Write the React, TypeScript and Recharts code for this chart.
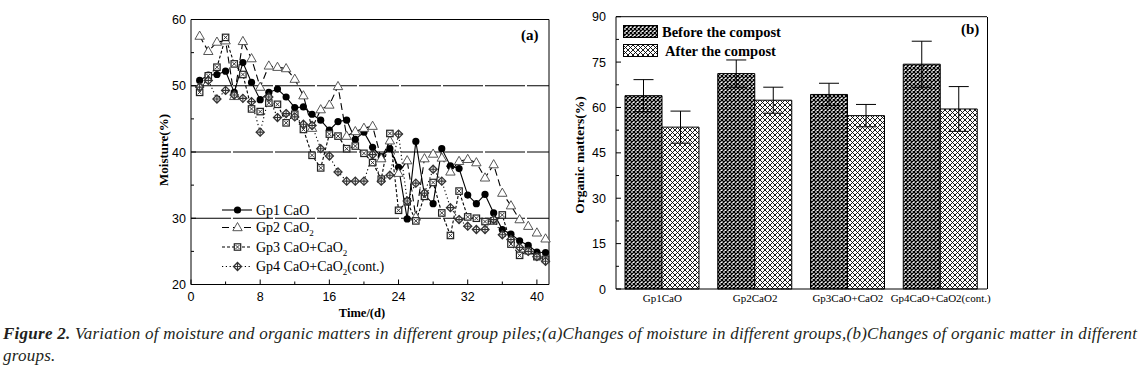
import React from "react";
import {
  LineChart,
  Line,
  XAxis,
  YAxis,
  ReferenceLine,
  Legend,
  BarChart,
  Bar,
  ErrorBar,
} from "recharts";

// moisture (%) by composting day, panel (a)
const days = [
  1, 2, 3, 4, 5, 6, 7, 8, 9, 10, 11, 12, 13, 14, 15, 16, 17, 18, 19, 20, 21,
  22, 23, 24, 25, 26, 27, 28, 29, 30, 31, 32, 33, 34, 35, 36, 37, 38, 39, 40, 41,
];
const gp1Moisture = [
  50.8, 51.6, 51.7, 52.2, 49.0, 53.5, 50.5, 47.9, 49.0, 49.5, 48.3, 46.7, 46.8,
  45.7, 44.8, 43.3, 44.6, 44.8, 41.9, 43.0, 40.7, 39.3, 40.5, 37.7, 29.9, 41.6,
  33.5, 32.2, 40.5, 37.9, 37.5, 33.5, 32.2, 33.6, 30.8, 28.3, 27.6, 26.6, 25.9,
  24.9, 24.8,
];
const gp2Moisture = [
  57.5, 55.2, 56.6, 56.8, 48.4, 56.7, 54.1, 49.8, 53.0, 52.8, 52.6, 51.0, 48.5,
  43.6, 46.4, 47.1, 49.9, 42.4, 43.1, 43.6, 43.9, 39.0, 41.7, 36.8, 38.7, 30.2,
  39.0, 39.7, 39.1, 37.0, 38.6, 38.9, 38.4, 36.1, 38.1, 33.8, 31.9, 29.8, 28.8,
  27.8, 26.9,
];
const gp3Moisture = [
  49.0, 51.5, 52.8, 57.3, 53.3, 51.7, 46.5, 46.1, 47.4, 47.2, 44.4, 45.7, 43.4,
  39.5, 37.6, 42.7, 42.4, 40.5, 40.9, 39.8, 38.4, 35.9, 42.8, 31.2, 32.5, 29.6,
  33.3, 35.4, 30.8, 27.4, 34.1, 30.2, 30.0, 29.5, 29.6, 30.5, 26.1, 24.4, 25.1,
  24.2, 23.8,
];
const gp4Moisture = [
  49.8, 50.8, 48.0, 49.3, 48.6, 48.1, 47.6, 43.0, 48.3, 45.2, 45.8, 45.3, 44.2,
  44.0, 40.5, 39.4, 37.0, 35.6, 35.6, 35.6, 39.6, 35.6, 36.5, 42.7, 32.6, 35.3,
  33.8, 37.4, 35.6, 31.6, 29.8, 28.8, 28.3, 28.3, 29.8, 27.5, 26.8, 25.6, 25.0,
  24.2, 23.5,
];
const dayTicks = [0, 4, 8, 12, 16, 20, 24, 28, 32, 36, 40];
const moistureTicks = [20, 25, 30, 35, 40, 45, 50, 55, 60];

// organic matter (%), panel (b)
const groups = ["Gp1CaO", "Gp2CaO2", "Gp3CaO+CaO2", "Gp4CaO+CaO2(cont.)"];
const omBefore = [63.9, 71.2, 64.3, 74.3];
const omBeforeErr = [5.3, 4.5, 3.7, 7.6];
const omAfter = [53.5, 62.4, 57.3, 59.5];
const omAfterErr = [5.3, 4.3, 3.7, 7.4];
const omTicks = [0, 7.5, 15, 22.5, 30, 37.5, 45, 52.5, 60, 67.5, 75, 82.5, 90];

const moistureData = days.map((d, i) => ({
  day: d,
  gp1: gp1Moisture[i],
  gp2: gp2Moisture[i],
  gp3: gp3Moisture[i],
  gp4: gp4Moisture[i],
}));

const omData = groups.map((g, i) => ({
  group: g,
  before: omBefore[i],
  beforeErr: omBeforeErr[i],
  after: omAfter[i],
  afterErr: omAfterErr[i],
}));

const SANS = "Liberation Sans, Arial, sans-serif";
const SERIF = "Liberation Serif, Times New Roman, serif";

// markers
const Circle = ({ cx, cy }: any) => <circle cx={cx} cy={cy} r={3.6} fill="#000" />;
const Tri = ({ cx, cy }: any) => (
  <path
    d={`M${cx},${cy - 5} L${cx + 4.7},${cy + 3.2} L${cx - 4.7},${cy + 3.2} Z`}
    fill="#fff"
    stroke="#444"
    strokeWidth={0.9}
  />
);
const BoxX = ({ cx, cy }: any) => (
  <g>
    <rect x={cx - 3.2} y={cy - 3.2} width={6.4} height={6.4} fill="#fff" stroke="#222" strokeWidth={1.2} />
    <path d={`M${cx - 2},${cy - 2} L${cx + 2},${cy + 2} M${cx + 2},${cy - 2} L${cx - 2},${cy + 2}`} stroke="#222" strokeWidth={0.9} />
  </g>
);
const CrossDia = ({ cx, cy }: any) => (
  <g>
    <path
      d={`M${cx},${cy - 4} L${cx + 4},${cy} L${cx},${cy + 4} L${cx - 4},${cy} Z`}
      fill="#fff"
      stroke="#333"
      strokeWidth={1.3}
    />
    <path d={`M${cx},${cy - 4} V${cy + 4} M${cx - 4},${cy} H${cx + 4}`} stroke="#333" strokeWidth={1.1} />
  </g>
);

const dotOf = (Shape: any) => (p: any) =>
  p.cx == null ? <g key={p.key} /> : <g key={p.key}><Shape cx={p.cx} cy={p.cy} /></g>;

const series = [
  { key: "gp1", name: "Gp1 CaO", sub: "", tail: "", dash: undefined, shape: Circle },
  { key: "gp2", name: "Gp2 CaO", sub: "2", tail: "", dash: "7 4", shape: Tri },
  { key: "gp3", name: "Gp3 CaO+CaO", sub: "2", tail: "", dash: "3 2", shape: BoxX },
  { key: "gp4", name: "Gp4 CaO+CaO", sub: "2", tail: "(cont.)", dash: "1.2 2.6", shape: CrossDia },
];

const MoistXTick = (props: any) => {
  const { x, y, payload } = props;
  const major = payload.value % 8 === 0;
  return (
    <g>
      <line x1={x} x2={x} y1={y} y2={y - (major ? 5 : 3)} stroke="#000" />
      {major && (
        <text x={x} y={y + 16.5} textAnchor="middle" fontSize={12.5} fontFamily={SANS} fill="#000">
          {payload.value}
        </text>
      )}
    </g>
  );
};

const MoistYTick = (props: any) => {
  const { x, y, payload } = props;
  const major = payload.value % 10 === 0;
  return (
    <g>
      <line x1={x} x2={x + (major ? 5 : 3)} y1={y} y2={y} stroke="#000" />
      {major && (
        <text x={x - 5} y={y + 4.5} textAnchor="end" fontSize={12.5} fontFamily={SANS} fill="#000">
          {payload.value}
        </text>
      )}
    </g>
  );
};

const OmYTick = (props: any) => {
  const { x, y, payload } = props;
  const major = payload.value % 15 === 0;
  return (
    <g>
      <line x1={x} x2={x + (major ? 5 : 3)} y1={y} y2={y} stroke="#000" />
      {major && (
        <text x={x - 10} y={y + 4.5} textAnchor="end" fontSize={12.5} fontFamily={SANS} fill="#000">
          {payload.value}
        </text>
      )}
    </g>
  );
};

const OmXTick = (props: any) => {
  const { x, y, payload } = props;
  return (
    <text x={x} y={y + 13} textAnchor="middle" fontSize={11} fontFamily={SERIF} fill="#000">
      {payload.value}
    </text>
  );
};

const MoistLegend = () => {
  const rows = [0, 17.5, 37, 56.5];
  return (
    <svg width={230} height={84} style={{ overflow: "visible" }}>
      {series.map((s, i) => (
        <g key={s.key}>
          <line x1={2} x2={32} y1={rows[i] + 6} y2={rows[i] + 6} stroke="#000" strokeWidth={1.1} strokeDasharray={s.dash} />
          <s.shape cx={17.5} cy={rows[i] + 6} />
          <text x={36} y={rows[i] + 10.5} fontSize={14} fontFamily={SERIF} fill="#000">
            {s.name}
            {s.sub && <tspan fontSize={9} dy={4}>{s.sub}</tspan>}
            {s.tail && <tspan dy={-4}>{s.tail}</tspan>}
          </text>
        </g>
      ))}
    </svg>
  );
};

const OmLegend = () => (
  <svg width={240} height={44} style={{ overflow: "visible" }}>
    <rect x={0.5} y={0.5} width={34} height={12} fill="url(#patBefore)" stroke="#000" />
    <text x={39} y={11.5} fontSize={14.5} fontWeight="bold" fontFamily={SERIF} fill="#000">
      Before the compost
    </text>
    <rect x={0.5} y={19.5} width={34} height={12} fill="url(#patAfter)" stroke="#000" />
    <text x={42} y={30.5} fontSize={14.5} fontWeight="bold" fontFamily={SERIF} fill="#000">
      After the compost
    </text>
  </svg>
);

const label = (extra: React.CSSProperties): React.CSSProperties => ({
  position: "absolute",
  fontFamily: SERIF,
  fontWeight: "bold",
  color: "#000",
  whiteSpace: "nowrap",
  ...extra,
});

export default function App() {
  return (
    <div
      style={{
        position: "absolute",
        left: 0,
        top: 0,
        width: 1144,
        height: 371,
        background: "#fff",
        overflow: "hidden",
      }}
    >
      {/* (a) moisture */}
      <div style={{ position: "absolute", left: 150, top: 0 }}>
        <LineChart
          width={410}
          height={330}
          data={moistureData}
          margin={{ top: 19.5, right: 11, bottom: 0, left: 0 }}
        >
          <XAxis
            type="number"
            dataKey="day"
            domain={[0, 41.4]}
            ticks={dayTicks}
            interval={0}
            height={45.5}
            tickSize={0}
            tickMargin={0}
            tickLine={false}
            axisLine={{ stroke: "#000" }}
            tick={<MoistXTick />}
          />
          <YAxis
            domain={[20, 60]}
            ticks={moistureTicks}
            interval={0}
            width={41}
            tickSize={0}
            tickMargin={0}
            tickLine={false}
            axisLine={{ stroke: "#000" }}
            tick={<MoistYTick />}
          />
          <ReferenceLine y={60} stroke="#000" />
          <ReferenceLine x={41.4} stroke="#000" />
          <ReferenceLine y={50} stroke="#000" strokeDasharray="40 2" />
          <ReferenceLine y={40} stroke="#000" strokeDasharray="40 2" />
          <ReferenceLine y={30} stroke="#000" strokeDasharray="40 2" />
          {series.map((s) => (
            <Line
              key={s.key}
              dataKey={s.key}
              stroke="#000"
              strokeWidth={1.1}
              strokeDasharray={s.dash}
              dot={dotOf(s.shape)}
              activeDot={false}
              isAnimationActive={false}
            />
          ))}
          <Legend
            layout="vertical"
            align="center"
            verticalAlign="middle"
            content={<MoistLegend />}
            wrapperStyle={{ left: 70, top: 204, width: 230, height: 84 }}
          />
        </LineChart>
      </div>
      <div style={label({ left: 521, top: 27, fontSize: 15 })}>(a)</div>
      <div
        style={label({
          left: 164,
          top: 150,
          fontSize: 13,
          transform: "translate(-50%, -50%) rotate(-90deg)",
        })}
      >
        Moisture(%)
      </div>
      <div style={label({ left: 362, top: 313, fontSize: 12.5, transform: "translate(-50%, -50%)" })}>
        Time/(d)
      </div>

      {/* (b) organic matter */}
      <div style={{ position: "absolute", left: 570, top: 0 }}>
        <BarChart
          width={430}
          height={330}
          data={omData}
          margin={{ top: 16.7, right: 13, bottom: 0, left: 0 }}
          barGap={0}
          barSize={37}
        >
          <defs>
            <pattern id="patBefore" width={4} height={4} patternUnits="userSpaceOnUse">
              <rect width={4} height={4} fill="#fff" />
              <path d="M0,0 L4,4 M4,0 L0,4" stroke="#000" strokeWidth={1.25} />
            </pattern>
            <pattern id="patAfter" width={5} height={5} patternUnits="userSpaceOnUse">
              <rect width={5} height={5} fill="#fff" />
              <path d="M0,0 L5,5 M5,0 L0,5" stroke="#000" strokeWidth={0.9} />
            </pattern>
          </defs>
          <XAxis
            dataKey="group"
            height={41}
            interval={0}
            tickSize={0}
            tickMargin={0}
            tickLine={false}
            axisLine={{ stroke: "#000" }}
            tick={<OmXTick />}
          />
          <YAxis
            domain={[0, 90]}
            ticks={omTicks}
            interval={0}
            width={46}
            tickSize={0}
            tickMargin={0}
            tickLine={false}
            axisLine={{ stroke: "#000" }}
            tick={<OmYTick />}
          />
          <ReferenceLine y={90} stroke="#000" />
          <Bar dataKey="before" fill="url(#patBefore)" stroke="#000" strokeWidth={1} isAnimationActive={false}>
            <ErrorBar dataKey="beforeErr" width={10} stroke="#000" strokeWidth={1} />
          </Bar>
          <Bar dataKey="after" fill="url(#patAfter)" stroke="#000" strokeWidth={1} isAnimationActive={false}>
            <ErrorBar dataKey="afterErr" width={10} stroke="#000" strokeWidth={1} />
          </Bar>
          <Legend
            layout="vertical"
            align="center"
            verticalAlign="middle"
            content={<OmLegend />}
            wrapperStyle={{ left: 53, top: 25, width: 240, height: 44 }}
          />
        </BarChart>
      </div>
      <div style={{ position: "absolute", left: 986.5, top: 16.7, width: 1, height: 272.3, background: "#000" }} />
      <div style={label({ left: 961, top: 21, fontSize: 15 })}>(b)</div>
      <div
        style={label({
          left: 580,
          top: 155,
          fontSize: 13.5,
          transform: "translate(-50%, -50%) rotate(-90deg)",
        })}
      >
        Organic matters(%)
      </div>

      {/* caption */}
      <div
        style={{
          position: "absolute",
          left: 3,
          top: 323,
          fontFamily: SERIF,
          fontStyle: "italic",
          fontSize: 17,
          letterSpacing: 0.25,
          color: "#231f20",
          whiteSpace: "nowrap",
          lineHeight: "22px",
        }}
      >
        <div>
          <b>Figure 2.</b> Variation of moisture and organic matters in different group piles;(a)Changes of
          moisture in different groups,(b)Changes of organic matter in different
        </div>
        <div>groups.</div>
      </div>
    </div>
  );
}
